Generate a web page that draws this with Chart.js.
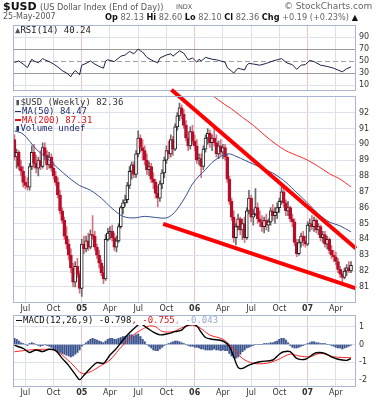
<!DOCTYPE html>
<html>
<head>
<meta charset="utf-8">
<script src="https://cdn.jsdelivr.net/npm/chart.js@4.4.1/dist/chart.umd.min.js"></script>
<style>
html,body{margin:0;padding:0;background:#fff;}
#wrap{position:relative;width:382px;height:400px;overflow:hidden;background:#fff;}
canvas{position:absolute;left:0;top:0;}
.t{position:absolute;white-space:nowrap;font-family:"DejaVu Sans",sans-serif;}
.m{position:absolute;white-space:nowrap;font-family:"DejaVu Sans Mono",monospace;font-size:9px;line-height:9px;}
.dash{display:inline-block;width:6px;height:1.5px;vertical-align:middle;margin-right:1px;}
</style>
</head>
<body>
<div id="wrap">
<canvas id="cRsi" width="382" height="400"></canvas>
<canvas id="cMain" width="382" height="400"></canvas>
<canvas id="cMacd" width="382" height="400"></canvas>

<div class="t" style="left:3px;top:0px;font-size:11px;font-weight:bold;color:#111;">$USD</div>
<div class="t" style="left:40px;top:2px;font-size:8.2px;color:#555;">(US Dollar Index (End of Day))</div>
<div class="t" style="left:176px;top:3px;font-size:6.5px;color:#555;">INDX</div>
<div class="t" style="left:284px;top:1px;font-size:9px;color:#666;">© StockCharts.com</div>
<div class="t" style="left:3px;top:12px;font-size:8px;color:#555;">25-May-2007</div>
<div class="t" style="left:105px;top:12px;font-size:8.2px;color:#666;"><b style="color:#111">Op</b> 82.13 <b style="color:#111">Hi</b> 82.60 <b style="color:#111">Lo</b> 82.10 <b style="color:#111">Cl</b> 82.36 <b style="color:#111">Chg</b> +0.19 (+0.23%) <span style="color:#111">▲</span></div>

<div class="m" style="left:15px;top:26px;color:#222;"><span style="color:#555">▲</span>RSI(14) 40.24</div>

<div class="m" style="left:15px;top:98px;color:#333;"><span style="color:#555">▮</span>$USD (Weekly) 82.36</div>
<div class="m" style="left:15px;top:107px;color:#1f2f6a;"><span class="dash" style="background:#1f2f6a"></span>MA(50) 84.47</div>
<div class="m" style="left:15px;top:115.5px;color:#e01010;"><span class="dash" style="background:#e01010"></span>MA(200) 87.31</div>
<div class="m" style="left:15px;top:124px;color:#1f2f6a;"><span style="color:#1f2f6a">▮</span>Volume undef</div>

<div class="m" style="left:16px;top:316px;background:#fff;color:#111;"><span class="dash" style="background:#111"></span>MACD(12,26,9) -0.798<span style="color:#e01010">, -0.755</span><span style="color:#9aabcc">, -0.043</span></div>
</div>

<script>
// ---- x axis (weekly bars, index 0 = week of 4-Jun-2004, last = 25-May-2007) ----
const tickWeeks  = [5, 18, 31, 44, 57, 70, 83, 96, 109, 122, 135, 148];
const tickLabels = ['Jul','Oct','05','Apr','Jul','Oct','06','Apr','Jul','Oct','07','Apr'];
const yearWeeks  = [31, 83, 135];

// ---- weekly OHLC ----
const open = [
90.3,89.2,89.5,88.6,88.3,87.6,87.4,87.3,88.6,89.5,
88.8,88.5,89.0,88.6,89.8,89.3,88.7,89.2,88.5,88.0,
87.6,86.8,85.8,85.2,84.2,83.7,83.0,82.2,81.3,82.3,
81.8,80.9,83.7,83.4,83.9,83.5,84.3,84.2,83.5,83.0,
82.5,81.9,81.5,84.0,84.4,84.5,84.1,83.5,83.9,84.8,
86.0,86.3,86.5,87.4,88.3,88.7,88.1,89.4,90.4,89.8,
89.6,89.0,88.4,88.6,87.8,87.6,86.9,86.6,87.5,88.2,
89.0,89.6,89.4,90.3,89.7,91.1,91.8,92.3,91.9,91.2,
90.4,89.9,90.8,90.2,89.9,89.0,89.1,88.6,89.7,90.4,
90.7,90.1,90.4,90.1,89.4,89.9,89.5,89.8,89.2,87.8,
86.4,85.4,84.1,84.8,85.3,84.6,85.0,84.1,85.8,86.6,
85.4,85.6,86.0,85.3,85.1,84.8,85.2,84.9,85.1,85.8,
85.5,85.7,86.0,86.4,87.0,86.3,85.8,86.0,85.3,85.1,
83.8,83.1,83.8,84.2,83.9,83.7,84.9,85.0,84.8,85.2,
84.6,84.8,84.1,84.3,83.7,84.0,83.3,83.0,82.9,82.6,
82.1,81.8,81.6,82.0,82.2,82.0];
const high = [
90.6,89.7,89.6,89.0,88.6,88.0,87.9,88.8,89.9,90.0,
89.3,89.2,89.6,90.1,90.1,89.6,89.5,89.4,88.9,88.3,
87.9,87.1,86.0,85.4,84.8,84.0,83.4,82.5,82.6,82.8,
82.0,84.0,84.2,84.2,84.4,84.6,85.5,84.5,83.7,83.3,
82.7,82.3,84.3,84.7,84.8,84.9,84.4,84.2,85.0,86.1,
86.5,86.8,87.6,88.6,88.9,88.9,89.6,90.85,90.6,90.3,
89.9,89.4,88.9,88.8,88.2,87.8,87.4,87.7,88.4,89.2,
89.9,90.2,90.6,90.5,91.3,92.0,92.6,92.5,92.2,91.5,
90.8,91.1,91.2,90.6,90.3,89.4,89.4,89.9,90.6,91.0,
90.9,90.6,91.2,90.6,90.2,90.3,90.0,90.0,89.4,88.0,
86.6,85.8,85.0,85.6,85.4,85.3,85.4,86.0,87.1,86.8,
85.9,87.2,86.3,85.8,85.5,85.4,85.6,85.3,86.0,86.2,
86.0,86.3,86.6,87.3,87.2,86.5,86.4,86.1,85.6,85.3,
84.0,84.0,84.4,84.5,84.2,85.1,85.3,85.5,85.4,85.3,
85.0,84.9,84.5,84.5,84.2,84.1,83.6,83.3,83.2,82.8,
82.3,82.0,82.2,82.4,82.6,82.6];
const low = [
89.0,88.5,88.4,88.0,87.3,87.2,87.1,87.1,88.4,88.5,
88.2,88.0,88.4,88.5,89.0,88.4,88.5,88.3,87.8,87.4,
86.6,85.6,85.0,84.0,83.4,82.7,81.9,81.0,81.0,81.6,
80.6,80.4,83.1,83.2,83.3,83.4,84.0,83.3,82.8,82.2,
81.7,81.2,81.4,83.9,84.0,83.9,83.3,83.2,83.8,84.7,
85.6,86.1,86.3,87.2,87.8,87.9,87.9,89.2,89.5,89.0,
88.7,88.1,88.0,87.6,87.2,86.6,86.05,86.4,87.2,87.9,
88.8,89.1,89.2,89.3,89.6,90.9,91.5,91.6,91.0,90.2,
89.6,89.7,90.0,89.6,88.8,88.7,87.9,88.4,89.5,90.0,
89.8,89.6,89.9,89.2,89.1,89.3,89.1,89.0,87.6,86.2,
85.2,83.8,83.65,84.6,84.3,84.0,83.8,84.0,85.6,85.1,
84.9,85.5,85.0,84.8,84.5,84.4,84.6,84.5,84.9,85.2,
85.0,85.3,85.7,86.2,86.0,85.5,85.5,85.1,84.8,83.6,
82.9,83.0,83.5,83.6,83.5,83.6,84.5,84.6,84.5,84.4,
84.3,83.9,83.8,83.5,83.4,83.1,82.8,82.6,82.4,81.9,
81.6,81.3,81.5,81.7,81.9,81.9];
const close = [
89.2,89.5,88.6,88.3,87.6,87.4,87.3,88.6,89.5,88.8,
88.5,89.0,88.6,89.8,89.3,88.7,89.2,88.5,88.0,87.6,
86.8,85.8,85.2,84.2,83.7,83.0,82.2,81.3,82.3,81.8,
80.9,83.7,83.4,83.9,83.5,84.3,84.2,83.5,83.0,82.5,
81.9,81.5,84.0,84.4,84.5,84.1,83.5,83.9,84.8,86.0,
86.3,86.5,87.4,88.3,88.7,88.1,89.4,90.4,89.8,89.6,
89.0,88.4,88.6,87.8,87.6,86.9,86.6,87.5,88.2,89.0,
89.6,89.4,90.3,89.7,91.1,91.8,92.3,91.9,91.2,90.4,
89.9,90.8,90.2,89.9,89.0,89.1,88.6,89.7,90.4,90.7,
90.1,90.4,90.1,89.4,89.9,89.5,89.8,89.2,87.8,86.4,
85.4,84.1,84.8,85.3,84.6,85.0,84.1,85.8,86.6,85.4,
85.6,86.0,85.3,85.1,84.8,85.2,84.9,85.1,85.8,85.5,
85.7,86.0,86.4,87.0,86.3,85.8,86.0,85.3,85.1,83.8,
83.1,83.8,84.2,83.9,83.7,84.9,85.0,84.8,85.2,84.6,
84.8,84.1,84.3,83.7,84.0,83.3,83.0,82.9,82.6,82.1,
81.8,81.6,82.0,82.2,82.0,82.36];

// ---- moving averages [week, value] ----
const ma50 = [[0,90.85],[4,90.65],[10,89.7],[16,89.0],[20,88.5],[25,87.9],[30,87.4],[35,87.1],[40,86.6],[45,85.95],[50,85.45],[55,85.35],[60,85.45],[65,85.38],[70,85.35],[73,85.6],[76,86.1],[79,86.75],[82,87.5],[85,88.0],[88,88.4],[91,88.85],[94,89.15],[97,89.35],[99,89.4],[102,89.25],[106,89.0],[110,88.75],[115,88.45],[120,88.1],[125,87.6],[130,86.95],[135,86.3],[140,85.6],[145,85.1],[150,84.85],[155,84.47]];
const ma200 = [[91,93.1],[97,92.5],[100,92.24],[105,91.7],[110,91.2],[115,90.6],[120,90.05],[125,89.6],[130,89.3],[135,89.0],[140,88.6],[145,88.15],[150,87.8],[155,87.31]];

// ---- hand-drawn trend lines [week, value] ----
const upperTrend = [[72.3,93.45],[157.3,83.42]];
const lowerTrend = [[68.5,84.98],[157.3,80.91]];

// ---- RSI(14) [week, value] ----
const rsi = [[0,47.7],[2,50],[4,45],[6,39],[8,53],[9,50],[11,47],[13,54],[14,52],[16,49],[18,45],[20,40],[22,34],[24,30],[26,24],[27,30],[28,34],[29,31],[30,27],[31,43],[33,46],[35,50],[37,45],[39,41],[41,38],[42,50],[43,52],[46,49],[49,58],[51,60],[53,66],[55,62],[57,70],[58,67],[59,65],[61,56],[63,52],[64,50],[66,47],[67,55],[70,60],[72,62],[73,58],[76,67],[78,63],[80,52],[82,55],[84,48],[85,53],[86,50],[88,56],[91,53],[93,52],[95,50],[97,48],[98,39],[100,33],[101,30],[103,38],[104,37],[106,35],[107,43],[108,46],[110,45],[113,43],[116,46],[119,50],[121,52],[123,54],[125,48],[126,46],[128,44],[130,36],[132,43],[134,44],[136,51],[138,49],[141,43],[144,41],[147,38],[149,35],[151,32],[153,37],[155,40.24]];

// ---- MACD(12,26,9) [week, value] ----
const macdLine = [[0,-0.05],[4,-0.22],[7,-0.45],[10,-0.31],[13,-0.4],[16,-0.27],[19,-0.35],[22,-0.79],[25,-1.2],[28,-1.7],[30,-2.0],[32,-1.75],[35,-1.35],[38,-1.03],[41,-1.07],[44,-0.6],[47,-0.22],[50,0.26],[53,0.67],[56,1.01],[58,1.2],[61,0.95],[64,0.7],[67,0.55],[70,0.6],[74,0.73],[77,0.82],[79,1.05],[82,1.15],[84,1.05],[86,0.7],[88,0.4],[91,0.3],[96,0.2],[99,-0.12],[101,-0.7],[103,-1.3],[105,-1.36],[108,-1.17],[113,-0.98],[119,-0.88],[122,-0.55],[124,-0.41],[127,-0.41],[130,-0.79],[134,-0.84],[137,-0.6],[139,-0.47],[143,-0.5],[146,-0.7],[149,-0.84],[153,-0.9],[155,-0.798]];
const signalLine = [[0,-0.41],[7,-0.31],[13,-0.27],[18,-0.31],[22,-0.6],[27,-1.17],[31,-1.64],[35,-1.55],[39,-1.26],[44,-0.88],[48,-0.31],[53,0.35],[57,0.73],[62,1.05],[65,1.01],[68,0.75],[73,0.73],[77,0.95],[81,1.1],[85,0.98],[90,0.54],[96,0.3],[100,-0.12],[105,-0.79],[110,-1.07],[116,-1.07],[121,-0.88],[127,-0.54],[131,-0.65],[136,-0.7],[141,-0.5],[147,-0.7],[155,-0.755]];
const histogram = [
0.35,0.3,0.2,0.1,0.05,0.0,-0.05,0.05,0.1,0.05,
0.0,-0.05,-0.1,-0.05,0.0,-0.05,-0.1,-0.15,-0.25,-0.3,
-0.4,-0.45,-0.5,-0.55,-0.6,-0.65,-0.7,-0.65,-0.55,-0.45,
-0.3,-0.1,0.0,0.1,0.2,0.3,0.35,0.3,0.25,0.2,
0.15,0.1,0.2,0.3,0.35,0.35,0.3,0.3,0.35,0.4,
0.45,0.45,0.5,0.55,0.55,0.5,0.55,0.6,0.45,0.3,
0.15,0.0,-0.1,-0.2,-0.3,-0.35,-0.35,-0.25,-0.15,-0.05,
0.0,0.05,0.1,0.15,0.2,0.2,0.15,0.1,0.05,0.0,
-0.05,-0.1,-0.1,-0.15,-0.15,-0.2,-0.25,-0.25,-0.3,-0.3,
-0.3,-0.3,-0.25,-0.3,-0.3,-0.35,-0.3,-0.35,-0.35,-0.5,
-0.65,-0.75,-0.78,-0.7,-0.55,-0.4,-0.3,-0.2,-0.15,-0.1,
-0.05,0.0,0.0,0.0,0.0,0.05,0.05,0.05,0.1,0.1,
0.15,0.2,0.3,0.35,0.35,0.25,0.1,-0.05,-0.15,-0.2,
-0.2,-0.15,-0.1,-0.05,0.0,0.05,0.1,0.15,0.15,0.1,
0.1,0.05,0.05,0.05,0.0,0.0,-0.05,-0.1,-0.15,-0.2,
-0.2,-0.25,-0.2,-0.15,-0.1,-0.043];

// ---- y tick labels ----
const rsiTicks = [90, 70, 50, 30, 10];
const priceTicks = [81, 82, 83, 84, 85, 86, 87, 88, 89, 90, 91, 92];
const macdTicks = [1, 0, -1, -2];

// ================= drawing =================
Chart.defaults.font.family = 'DejaVu Sans';
const XMIN = -0.66, XMAX = 157.3;
const pts = arr => arr.map(([x, y]) => ({x, y}));
const weeks = close.map((_, i) => i);

const boxPlugin = {
  id: 'box',
  afterDraw(chart) {
    const {ctx, chartArea: a} = chart;
    ctx.save();
    ctx.strokeStyle = '#a9b5d2';
    ctx.lineWidth = 1;
    ctx.strokeRect(Math.round(a.left) + 0.5, Math.round(a.top) + 0.5,
                   Math.round(a.right - a.left) - 1, Math.round(a.bottom - a.top) - 1);
    ctx.restore();
  }
};

function xScale(showTicks) {
  return {
    type: 'linear', min: XMIN, max: XMAX, offset: false,
    afterBuildTicks: s => { s.ticks = tickWeeks.map(v => ({value: v})); },
    afterFit: s => { s.height = showTicks ? 12 : 0; },
    grid: {
      offset: false, drawTicks: false, lineWidth: 1,
      color: c => (c.tick && yearWeeks.includes(c.tick.value)) ? '#e8c6ca' : '#dde1ec'
    },
    border: {display: false},
    ticks: {
      display: showTicks, autoSkip: false, maxRotation: 0, minRotation: 0, padding: 1,
      color: '#333',
      font: c => ({family: 'DejaVu Sans', size: 8,
                   weight: (c.tick && yearWeeks.includes(c.tick.value)) ? 'bold' : 'normal'}),
      callback: v => { const k = tickWeeks.indexOf(v); return k >= 0 ? tickLabels[k] : ''; }
    }
  };
}

function yScale(min, max, tvals, color, dash) {
  return {
    position: 'right', min, max, beginAtZero: false,
    afterBuildTicks: s => { s.ticks = tvals.map(v => ({value: v})); },
    afterFit: s => { s.width = 26; },
    grid: {drawTicks: false, lineWidth: 1, color: color || '#dde1ec'},
    border: {display: false, dash: dash || []},
    ticks: {padding: 3, color: '#333', font: {family: 'DejaVu Sans', size: 8}, callback: v => String(v)}
  };
}

const common = (pad) => ({
  responsive: false, animation: false, events: [],
  layout: {padding: pad},
  plugins: {legend: {display: false}, tooltip: {enabled: false}},
});

// ---- RSI panel ----
new Chart(document.getElementById('cRsi'), {
  type: 'line',
  data: {datasets: [{
    data: pts(rsi), borderColor: '#1b2245', borderWidth: 1, pointRadius: 0, tension: 0
  }]},
  options: Object.assign(common({left: 13, right: 0, top: 25, bottom: 400 - 91}), {
    scales: {
      x: xScale(false),
      y: yScale(0, 110, rsiTicks,
        c => (c.tick && (c.tick.value === 70 || c.tick.value === 30)) ? '#9a9a9a' :
             (c.tick && c.tick.value === 50) ? '#a0a0a0' : '#dde1ec',
        c => (c.tick && c.tick.value === 50) ? [5, 3] : [])
    }
  }),
  plugins: [boxPlugin]
});

// ---- price panel ----
const upBar = close.map((c, i) => c >= (i ? close[i - 1] : open[i]));
const candleColor = upBar.map(u => u ? '#1e1e1e' : '#b80e2a');
const wickColor = upBar.map(u => u ? '#6a6a6a' : '#d87080');
const bodyFill = close.map((c, i) => c > open[i] ? '#ffffff' : candleColor[i]);

new Chart(document.getElementById('cMain'), {
  type: 'bar',
  data: {datasets: [
    {type: 'line', data: pts(upperTrend), borderColor: '#ff0000', borderWidth: 4, pointRadius: 0, clip: false, order: 0, borderCapStyle: 'butt'},
    {type: 'line', data: pts(lowerTrend), borderColor: '#ff0000', borderWidth: 4, pointRadius: 0, clip: false, order: 0, borderCapStyle: 'butt'},
    {type: 'line', data: pts(ma50), borderColor: '#34508e', borderWidth: 1, pointRadius: 0, tension: 0.3, order: 1},
    {type: 'line', data: pts(ma200), borderColor: '#ff2a2a', borderWidth: 1, pointRadius: 0, tension: 0.3, order: 1},
    {type: 'bar', data: weeks.map(i => ({x: i, y: [open[i], close[i]]})),
     backgroundColor: bodyFill, borderColor: candleColor, borderWidth: 1, borderSkipped: false,
     barThickness: 3, grouped: false, order: 2},
    {type: 'bar', data: weeks.map(i => ({x: i, y: [low[i], high[i]]})),
     backgroundColor: wickColor, borderWidth: 0, barThickness: 1, grouped: false, order: 3}
  ]},
  options: Object.assign(common({left: 13, right: 0, top: 96, bottom: 400 - 302.7 - 12}), {
    scales: {x: xScale(true), y: yScale(80, 93.05, priceTicks)}
  }),
  plugins: [boxPlugin]
});

// ---- MACD panel ----
new Chart(document.getElementById('cMacd'), {
  type: 'bar',
  data: {datasets: [
    {type: 'line', data: pts(macdLine), borderColor: '#000000', borderWidth: 1.4, pointRadius: 0, tension: 0.3, order: 0},
    {type: 'line', data: pts(signalLine), borderColor: '#ff2020', borderWidth: 1, pointRadius: 0, tension: 0.3, order: 0},
    {type: 'bar', data: weeks.map(i => ({x: i, y: histogram[i]})), backgroundColor: '#3a5289',
     barThickness: 1, grouped: false, order: 1},
    {type: 'bar', data: weeks.map(i => ({x: i, y: histogram[i]})), backgroundColor: '#aebcdb',
     barThickness: 2.2, grouped: false, order: 2}
  ]},
  options: Object.assign(common({left: 13, right: 0, top: 315, bottom: 400 - 386.7 - 12}), {
    scales: {x: xScale(true), y: yScale(-2.4, 1.68, macdTicks)}
  }),
  plugins: [boxPlugin]
});
</script>
</body>
</html>
